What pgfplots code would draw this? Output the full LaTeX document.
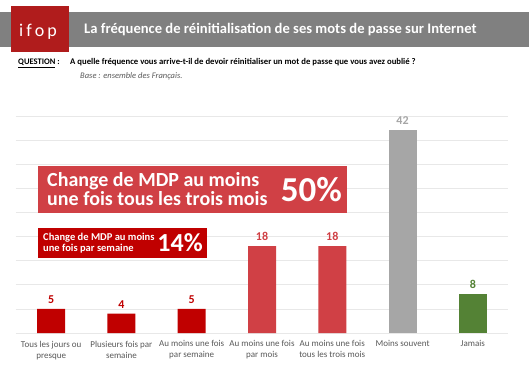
\documentclass[border=0pt]{standalone}
\usepackage{pgfplots}
\pgfplotsset{compat=1.18}
\usepackage{fontspec}
\setmainfont{Carlito}
\definecolor{ifopred}{HTML}{B01C1C}
\definecolor{darkred}{HTML}{C00000}
\definecolor{midred}{HTML}{D04045}
\definecolor{bargray}{HTML}{A6A6A6}
\definecolor{bargreen}{HTML}{548235}
\definecolor{bandgray}{HTML}{808080}
\definecolor{txtgray}{HTML}{595959}
\begin{document}
\begin{tikzpicture}
\useasboundingbox (0pt,0pt) rectangle (529pt,378pt);
\fill[white] (0pt,0pt) rectangle (529pt,378pt);
\fill[bandgray] (0pt,331pt) rectangle (529pt,366pt);
\fill[ifopred] (11pt,326pt) rectangle (69pt,372pt);
\node[white, font=\fontsize{18}{18}\selectfont] at (38pt,346pt) {i\,f\,o\,p};
\node[anchor=west, white, inner sep=0pt, font=\bfseries\fontsize{14.6}{16}\selectfont] at (84pt,348.5pt) {La fréquence de réinitialisation de ses mots de passe sur Internet};
\node[anchor=base west, inner sep=0pt, font=\bfseries\fontsize{8.5}{10}\selectfont] at (18pt,313pt) {\underline{QUESTION} :};
\node[anchor=base west, inner sep=0pt, font=\bfseries\fontsize{8.7}{10}\selectfont] at (70pt,313pt) {A quelle fréquence vous arrive-t-il de devoir réinitialiser un mot de passe que vous avez oublié ?};
\node[anchor=base west, inner sep=0pt, text=txtgray, font=\itshape\fontsize{8.5}{10}\selectfont] at (80pt,299pt) {Base : ensemble des Français.};
\begin{axis}[
  at={(16pt,45pt)}, anchor=south west, scale only axis,
  width=492pt, height=217pt,
  xmin=-0.5, xmax=6.5, ymin=0, ymax=45,
  ybar, bar width=28pt, bar shift=0pt,
  ytick={0,5,...,45}, yticklabels={},
  ymajorgrids, major grid style={draw=black!9, line width=0.7pt},
  axis line style={draw=none}, tick style={draw=none},
  xtick={0,...,6},
  xticklabels={Tous les jours ou\\presque, Plusieurs fois par\\semaine, Au moins une fois\\par semaine, Au moins une fois\\par mois, Au moins une fois\\tous les trois mois, Moins souvent, Jamais},
  xticklabel style={align=center, text=txtgray, font=\fontsize{9}{11}\selectfont},
  /pgf/number format/assume math mode=true,
  nodes near coords,
  every node near coord/.append style={font=\bfseries\fontsize{12}{13}\selectfont, yshift=2pt},
  clip=false,
]
\addplot[fill=darkred, draw=none, every node near coord/.append style={text=darkred}] coordinates {(0,5) (1,4) (2,5)};
\addplot[fill=midred, draw=none, every node near coord/.append style={text=midred}] coordinates {(3,18) (4,18)};
\addplot[fill=bargray, draw=none, every node near coord/.append style={text=bargray}] coordinates {(5,42)};
\addplot[fill=bargreen, draw=none, every node near coord/.append style={text=bargreen}] coordinates {(6,8)};
\end{axis}
\fill[midred] (38pt,165pt) rectangle (347pt,212pt);
\node[anchor=west, white, align=left, inner sep=0pt, font=\bfseries\fontsize{20}{16.5}\selectfont] at (47pt,189pt) {Change de MDP au moins\\une fois tous les trois mois};
\node[anchor=east, white, inner sep=0pt, font=\bfseries\fontsize{35}{35}\selectfont] at (342pt,188.5pt) {50\%};
\fill[darkred] (38pt,120pt) rectangle (207pt,150pt);
\node[anchor=west, white, align=left, inner sep=0pt, font=\bfseries\fontsize{10.5}{11.5}\selectfont] at (43pt,135pt) {Change de MDP au moins\\une fois par semaine};
\node[anchor=east, white, inner sep=0pt, font=\bfseries\fontsize{26}{26}\selectfont] at (203pt,135pt) {14\%};
\end{tikzpicture}
\end{document}
